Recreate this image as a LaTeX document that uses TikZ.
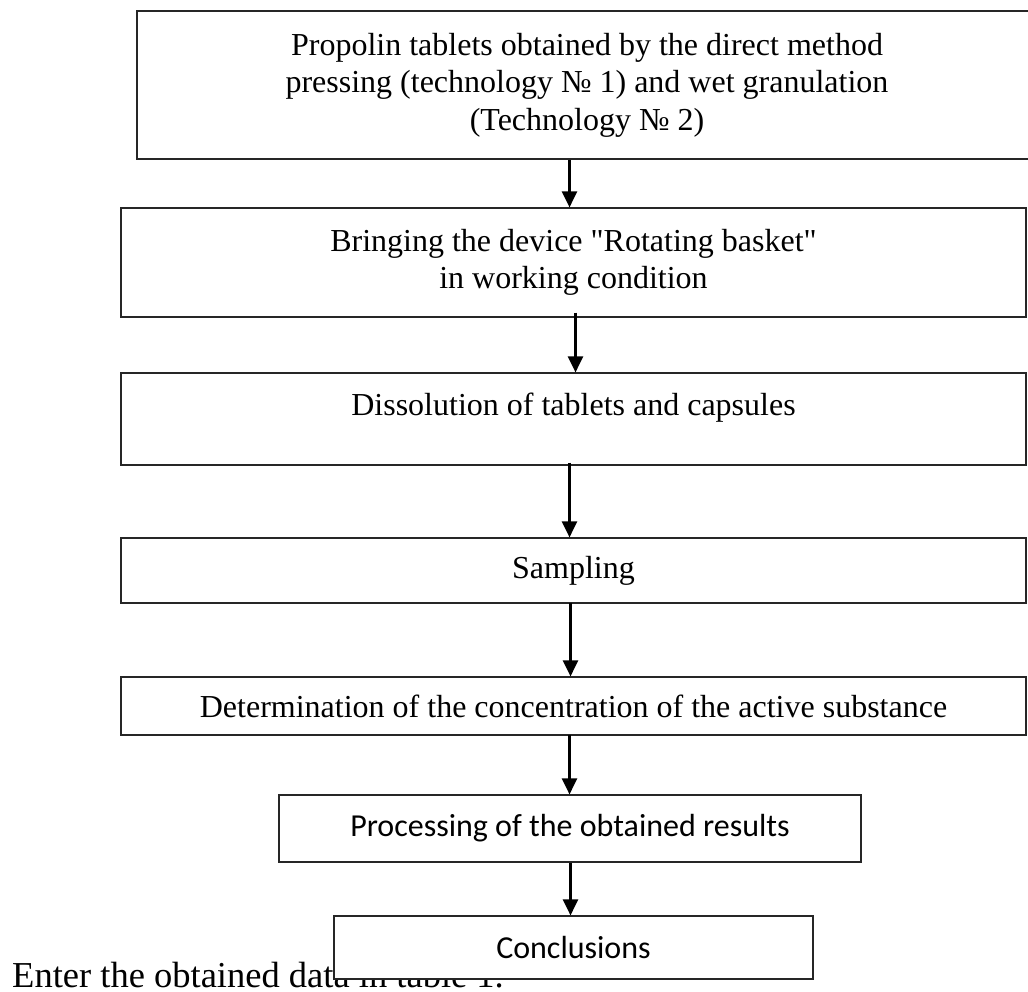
\documentclass[tikz,border=0pt]{standalone}
\usepackage{fontspec}
\setmainfont{Liberation Serif}
\newfontfamily\tnrq{Liberation Serif}
\newfontfamily\calib{Carlito}
\usetikzlibrary{arrows.meta}
\newcommand{\dq}{{\tnrq\symbol{34}}}
\begin{document}
\begin{tikzpicture}[x=1pt,y=-1pt,
  flowbox/.style={draw=black!85, line width=1.2pt, fill=white, inner sep=0pt, align=center,
    font=\fontsize{32}{37.5}\selectfont},
  sansbox/.style={flowbox, font=\calib\fontsize{32}{38}\selectfont},
  arr/.style={line width=2.5pt, -{Triangle[width=15pt,length=16pt]}}]
\useasboundingbox (0,0) rectangle (1028,991);
% bottom text (drawn first, partly covered by the last box)
\node[anchor=base west, inner sep=0pt, font=\fontsize{36.5}{40}\selectfont] (note) at (12,987) {Enter the obtained data in table 1.};
% boxes
\node[flowbox, minimum width=900pt, minimum height=148pt] (b1) at (587,85)
  {Propolin tablets obtained by the direct method\\pressing (technology № 1) and wet granulation\\(Technology № 2)};
\node[flowbox, minimum width=905pt, minimum height=109pt] (b2) at (573.5,262.5)
  {Bringing the device \dq Rotating basket\dq\\in working condition};
\node[flowbox, minimum width=905pt, minimum height=92pt] (b3) at (573.5,419)
  {\raisebox{3.4pt}[0pt][0pt]{Dissolution of tablets and capsules}};
\node[flowbox, minimum width=905pt, minimum height=65pt] (b4) at (573.5,570.5)
  {Sampling};
\node[flowbox, minimum width=905pt, minimum height=58pt] (b5) at (573.5,706)
  {Determination of the concentration of the active substance};
\node[sansbox, minimum width=582pt, minimum height=67pt] (b6) at (570,828.5)
  {Processing of the obtained results};
\node[sansbox, minimum width=479pt, minimum height=63pt] (b7) at (573.5,947.5)
  {Conclusions};
% connectors
\draw[arr] (569.5,0 |- b1.south) -- (569.5,0 |- b2.north);
\draw[arr] ([yshift=5pt]575.5,0 |- b2.south) -- (575.5,0 |- b3.north);
\draw[arr] ([yshift=3pt]569.5,0 |- b3.south) -- (569.5,0 |- b4.north);
\draw[arr] ([yshift=1pt]570.5,0 |- b4.south) -- (570.5,0 |- b5.north);
\draw[arr] ([yshift=1pt]569.5,0 |- b5.south) -- (569.5,0 |- b6.north);
\draw[arr] (570.5,0 |- b6.south) -- (570.5,0 |- b7.north);
\end{tikzpicture}
\end{document}
